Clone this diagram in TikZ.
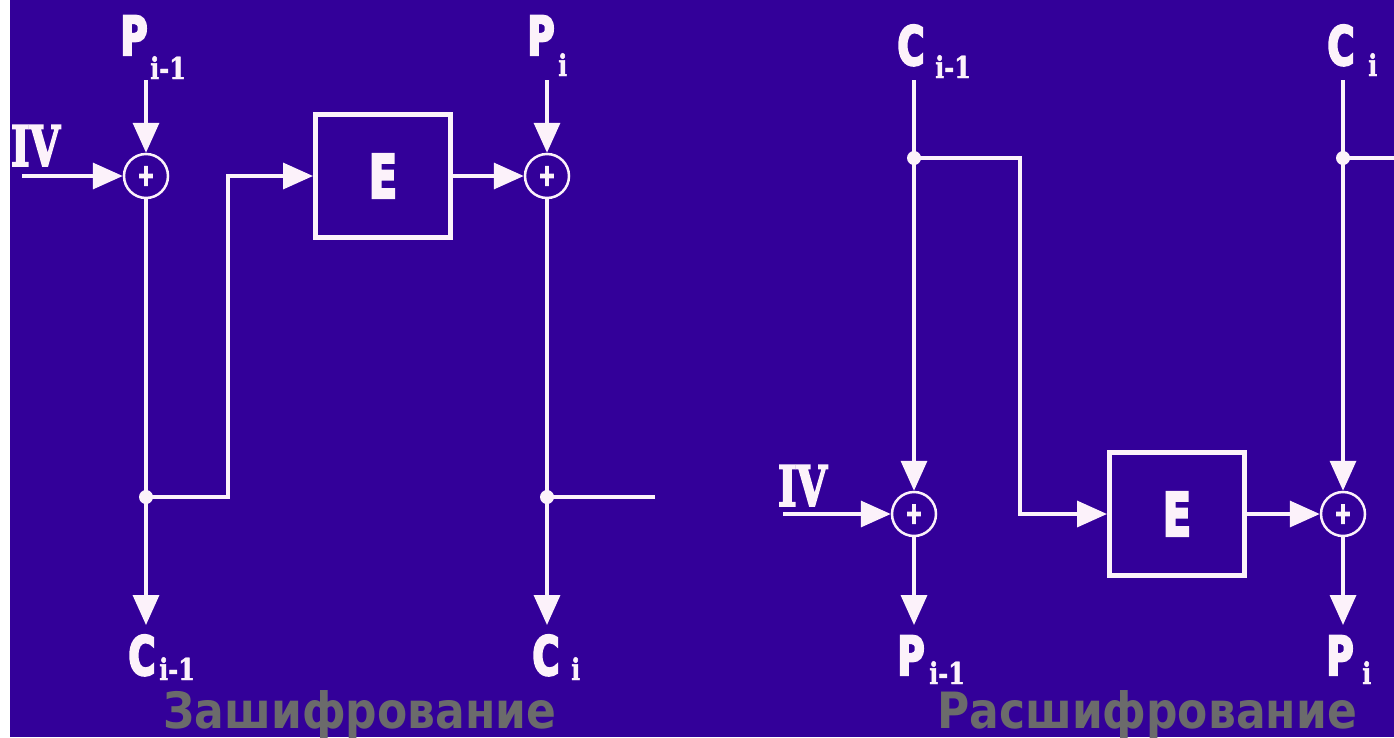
\documentclass[tikz,border=0pt]{standalone}
\usepackage{fontspec}
\setmainfont{DejaVu Sans}
\newfontfamily\lblfont[FakeStretch=0.68,FakeBold=4]{DejaVu Sans Bold}
\newfontfamily\subfont[FakeStretch=0.8,FakeBold=1.5]{DejaVu Serif Bold}
\newfontfamily\ivfont[FakeStretch=0.7,FakeBold=3]{DejaVu Serif Bold}
\newfontfamily\ttlfont[FakeStretch=0.88]{DejaVu Sans Bold}
\usetikzlibrary{arrows.meta,positioning}
\definecolor{bgblue}{HTML}{330099}
\definecolor{wline}{HTML}{FCF2FA}
\definecolor{titlegray}{HTML}{6B6B6B}
\tikzset{
  ar/.style={-{Triangle[length=30pt,width=26pt]},line width=3.5pt,wline},
  ln/.style={line width=3.5pt,wline},
  xor/.style={circle,draw=wline,line width=2.5pt,minimum size=44pt,inner sep=0pt,text=wline,font=\lblfont\fontsize{30}{30}\selectfont},
  ebox/.style={draw=wline,line width=5pt,minimum width=135pt,minimum height=123pt,text=wline,font=\lblfont\fontsize{60}{60}\selectfont},
  lbl/.style={text=wline,inner sep=0pt,font=\lblfont\fontsize{54}{54}\selectfont},
  sub/.style={text=wline,inner sep=0pt,font=\subfont\fontsize{30}{30}\selectfont},
  ivlbl/.style={text=wline,inner sep=0pt,font=\ivfont\fontsize{56}{56}\selectfont},
  ttl/.style={text=titlegray,inner sep=0pt,font=\ttlfont\fontsize{50}{50}\selectfont},
  dot/.style={circle,fill=wline,inner sep=0pt,minimum size=14pt}
}

\begin{document}
\begin{tikzpicture}[x=1pt,y=-1pt]
\useasboundingbox (0,0) rectangle (1394,737);
\fill[white] (0,0) rectangle (10,737);
\fill[bgblue] (10,0) rectangle (1394,737);

% --- encryption ---
\node[xor] (xa) at (146,176) {+};
\node[xor] (xb) at (547,176) {+};
\node[ebox] (ea) at (383,176) {E};
\node[lbl,anchor=base] (pa) at (134,55) {P};
\node[sub,anchor=base west] (pasub) at (150,79) {i-1};
\node[lbl,anchor=base] (pb) at (541,55) {P};
\node[sub,anchor=base west] (pbsub) at (558,76) {i};
\node[ivlbl,anchor=base west] (iva) at (11,166) {IV};
\node[lbl,anchor=base] (ca) at (142,675) {C};
\node[sub,anchor=base west] (casub) at (159,680) {i-1};
\node[lbl,anchor=base] (cb) at (546,675) {C};
\node[sub,anchor=base west] (cbsub) at (571,680) {i};
\node[dot] (ja) at (146,497) {};
\node[dot] (jb) at (547,497) {};
\coordinate (pain) at (146,80);
\coordinate (pbin) at (547,80);
\coordinate (ivain) at (22,176);
\coordinate (caout) at (146,625);
\coordinate (cbout) at (547,625);
\coordinate (fwd) at (655,497);

\draw[ar] (pain) -- (xa.north);
\draw[ar] (pbin) -- (xb.north);
\draw[ar] (ivain) -- (xa.west);
\draw[ar] (xa.south) -- (caout);
\draw[ar] (xb.south) -- (cbout);
\draw[ar] (ja.center) -| (228,176) -- (ea.west);
\draw[ar] (ea.east) -- (xb.west);
\draw[ln] (jb.center) -- (fwd);

% --- decryption ---
\node[xor] (xc) at (914,514) {+};
\node[xor] (xd) at (1343,514) {+};
\node[ebox] (eb) at (1177,514) {E};
\node[lbl,anchor=base] (cc) at (911,65) {C};
\node[sub,anchor=base west] (ccsub) at (935,78) {i-1};
\node[lbl,anchor=base] (cd) at (1341,65) {C};
\node[sub,anchor=base west] (cdsub) at (1368,76) {i};
\node[ivlbl,anchor=base west] (ivb) at (778,506) {IV};
\node[lbl,anchor=base] (pc) at (911,675) {P};
\node[sub,anchor=base west] (pcsub) at (929,684) {i-1};
\node[lbl,anchor=base] (pd) at (1340,675) {P};
\node[sub,anchor=base west] (pdsub) at (1362,684) {i};
\node[dot] (jc) at (914,158) {};
\node[dot] (jd) at (1343,158) {};
\coordinate (ccin) at (914,80);
\coordinate (cdin) at (1343,80);
\coordinate (ivbin) at (783,514);
\coordinate (pcout) at (914,625);
\coordinate (pdout) at (1343,625);
\coordinate (fwdb) at (1394,158);

\draw[ar] (ccin) -- (xc.north);
\draw[ar] (cdin) -- (xd.north);
\draw[ar] (ivbin) -- (xc.west);
\draw[ar] (xc.south) -- (pcout);
\draw[ar] (xd.south) -- (pdout);
\draw[ar] (jc.center) -| (1020,514) -- (eb.west);
\draw[ar] (eb.east) -- (xd.west);
\draw[ln] (jd.center) -- (fwdb);

% titles
\node[ttl,anchor=base] (tenc) at (360,728) {Зашифрование};
\node[ttl,anchor=base] (tdec) at (1147,728) {Расшифрование};
\end{tikzpicture}
\end{document}
